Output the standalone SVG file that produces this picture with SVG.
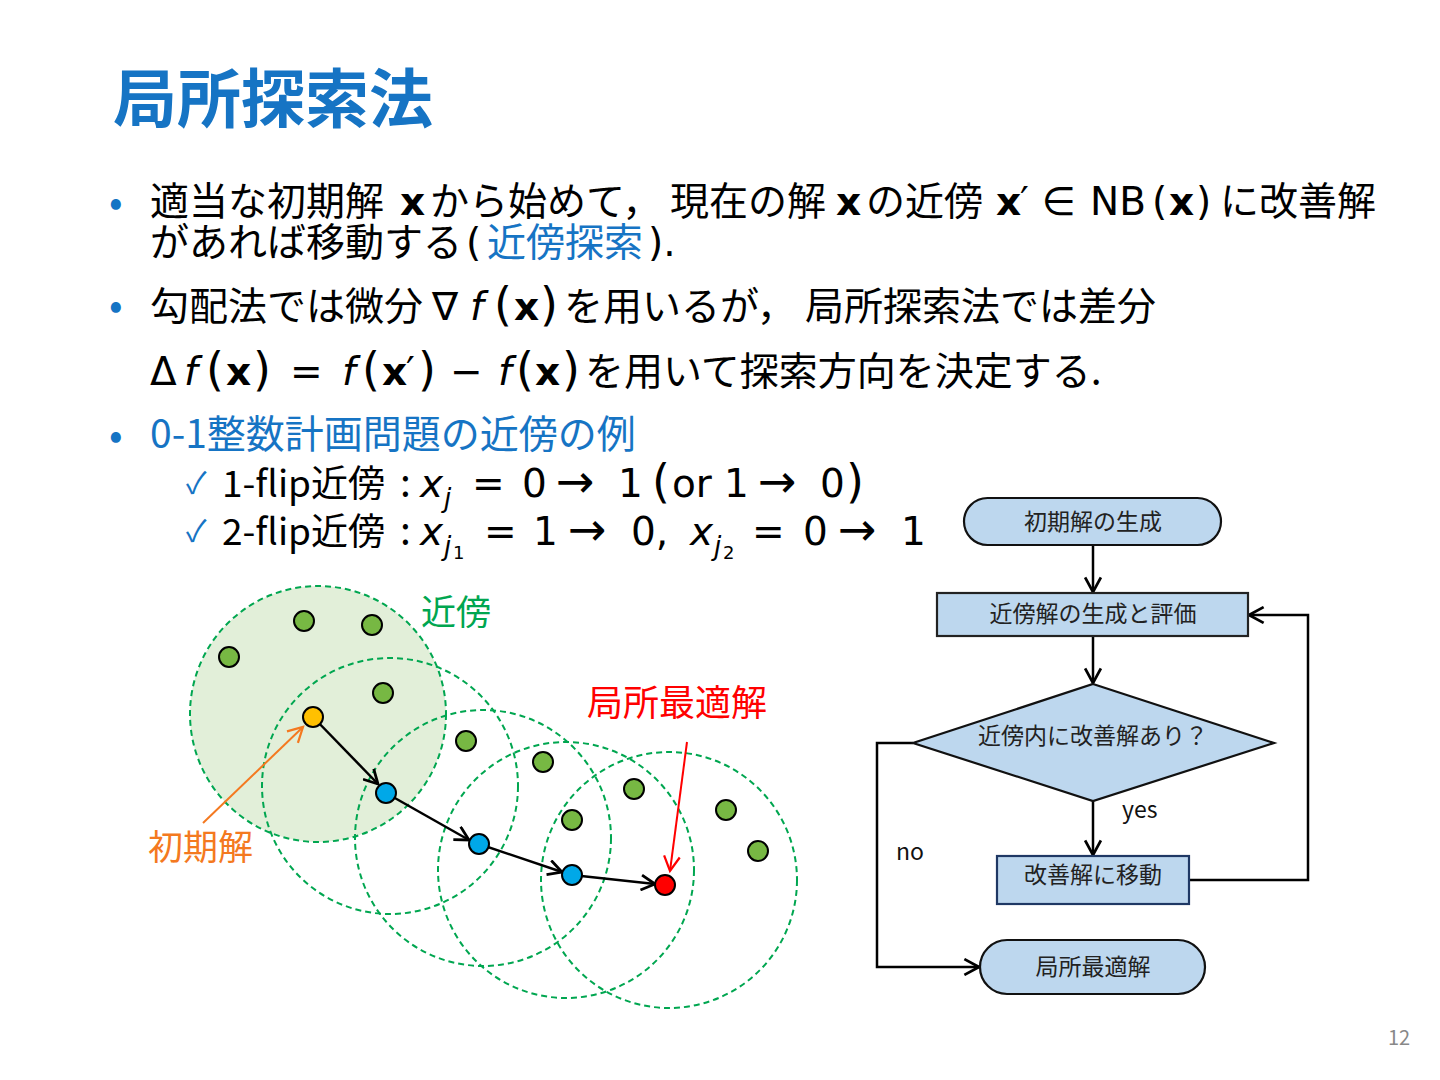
<svg xmlns="http://www.w3.org/2000/svg" width="1440" height="1080" viewBox="0 0 1440 1080">
<style>
text{font-family:"Noto Sans CJK JP","Noto Sans",sans-serif;}
.b{font-size:39px;fill:#000;}
.blue{fill:#1674C4;}
.m{font-family:"DejaVu Sans","Noto Sans",sans-serif;}
.it{font-style:italic;}
.bd{font-weight:bold;}
.fc{font-size:23px;fill:#222;text-anchor:middle;}
.nb{fill:#BDD7EE;stroke:#111;stroke-width:2.2;}
.ring{fill:none;stroke:#00A650;stroke-width:2;stroke-dasharray:6 4;}
.gd{fill:#77B843;stroke:#000;stroke-width:2;}
.bdot{fill:#00A8E8;stroke:#000;stroke-width:2;}
.con{fill:none;stroke:#000;stroke-width:2.5;}
</style>
<defs>
<marker id="ah" viewBox="0 0 16 16" refX="14" refY="8" markerWidth="17" markerHeight="17" markerUnits="userSpaceOnUse" orient="auto">
<path d="M1,1 L14,8 L1,15" fill="none" stroke="#000" stroke-width="2.6"/>
</marker>
<marker id="ahs" viewBox="0 0 16 16" refX="14" refY="8" markerWidth="18" markerHeight="18" markerUnits="userSpaceOnUse" orient="auto">
<path d="M1,1 L14,8 L1,15" fill="none" stroke="#000" stroke-width="2.4"/>
</marker>
<marker id="aho" viewBox="0 0 16 16" refX="14" refY="8" markerWidth="18" markerHeight="18" markerUnits="userSpaceOnUse" orient="auto">
<path d="M1,1 L14,8 L1,15" fill="none" stroke="#F47920" stroke-width="2"/>
</marker>
<marker id="ahr" viewBox="0 0 16 16" refX="14" refY="8" markerWidth="18" markerHeight="18" markerUnits="userSpaceOnUse" orient="auto">
<path d="M1,1 L14,8 L1,15" fill="none" stroke="#FF0000" stroke-width="2"/>
</marker>
</defs>
<rect width="1440" height="1080" fill="#fff"/>

<!-- Title -->
<text x="113" y="122" font-size="64" font-weight="bold" class="blue">局所探索法</text>

<!-- Bullets -->
<g class="blue" font-size="40"><text x="109" y="216">•</text><text x="109" y="319">•</text><text x="109" y="449">•</text></g>

<text class="b"><tspan x="150" y="215">適当な初期解</tspan><tspan x="400" class="m bd">x</tspan><tspan x="430">から始めて，</tspan><tspan x="670">現在の解</tspan><tspan x="836" class="m bd">x</tspan><tspan x="866">の近傍</tspan><tspan x="996" class="m bd">x</tspan><tspan x="1020" class="m">′</tspan><tspan x="1042" class="m">∈</tspan><tspan x="1090" class="m">NB</tspan><tspan x="1152" class="m">(</tspan><tspan x="1169" class="m bd">x</tspan><tspan x="1196" class="m">)</tspan><tspan x="1220">に改善解</tspan><tspan x="150" y="256">があれば移動する</tspan><tspan x="466" class="m">(</tspan><tspan x="487" class="blue">近傍探索</tspan><tspan x="648" class="m">).</tspan></text>

<text class="b"><tspan x="150" y="320">勾配法では微分</tspan><tspan x="432" class="m">∇</tspan><tspan x="470" class="m it">f</tspan><tspan x="494" class="m" font-size="46">(</tspan><tspan x="514" class="m bd">x</tspan><tspan x="540" class="m" font-size="46">)</tspan><tspan x="564">を用いるが，</tspan><tspan x="805">局所探索法では差分</tspan><tspan x="150" y="385" class="m">Δ</tspan><tspan x="184" class="m it">f</tspan><tspan x="206" class="m" font-size="46">(</tspan><tspan x="226" class="m bd">x</tspan><tspan x="253" class="m" font-size="46">)</tspan><tspan x="290" class="m">=</tspan><tspan x="342" class="m it">f</tspan><tspan x="362" class="m" font-size="46">(</tspan><tspan x="382" class="m bd">x</tspan><tspan x="406" class="m">′</tspan><tspan x="418" class="m" font-size="46">)</tspan><tspan x="450" class="m">−</tspan><tspan x="498" class="m it">f</tspan><tspan x="516" class="m" font-size="46">(</tspan><tspan x="535" class="m bd">x</tspan><tspan x="562" class="m" font-size="46">)</tspan><tspan x="585">を用いて探索方向を決定する.</tspan></text>

<text class="b blue" y="448" x="150">0-1整数計画問題の近傍の例</text>

<g font-size="30" class="blue"><text x="186" y="494">✓</text><text x="186" y="542">✓</text></g>
<text class="b"><tspan x="222" y="497" font-size="37">1-flip近傍</tspan><tspan x="400">:</tspan><tspan x="420" class="m it">x</tspan><tspan x="444" y="507" font-size="26" class="m it">j</tspan><tspan x="472" y="497" class="m">=</tspan><tspan x="522" class="m">0</tspan><tspan x="556" class="m" font-size="46">→</tspan><tspan x="618" class="m">1</tspan><tspan x="652" class="m" font-size="46">(</tspan><tspan x="672" class="m">or</tspan><tspan x="724" class="m">1</tspan><tspan x="758" class="m" font-size="46">→</tspan><tspan x="820" class="m">0</tspan><tspan x="846" class="m" font-size="46">)</tspan><tspan x="222" y="545" font-size="37">2-flip近傍</tspan><tspan x="400">:</tspan><tspan x="420" class="m it">x</tspan><tspan x="444" y="555" font-size="26" class="m it">j</tspan><tspan x="453" y="559" font-size="18" class="m">1</tspan><tspan x="484" y="545" class="m">=</tspan><tspan x="533" class="m">1</tspan><tspan x="568" class="m" font-size="46">→</tspan><tspan x="631" class="m">0,</tspan><tspan x="690" class="m it">x</tspan><tspan x="714" y="555" font-size="26" class="m it">j</tspan><tspan x="723" y="559" font-size="18" class="m">2</tspan><tspan x="752" y="545" class="m">=</tspan><tspan x="803" class="m">0</tspan><tspan x="838" class="m" font-size="46">→</tspan><tspan x="901" class="m">1</tspan></text>

<!-- Neighborhood illustration -->
<g id="neighborhoods">
<circle cx="318" cy="714" r="128" class="ring" style="fill:#E2EFD9"/>
<circle cx="390" cy="786" r="128" class="ring"/>
<circle cx="483" cy="838" r="128" class="ring"/>
<circle cx="566" cy="870" r="128" class="ring"/>
<circle cx="669" cy="880" r="128" class="ring"/>
</g>
<g id="dots">
<circle cx="229" cy="657" r="10" class="gd"/>
<circle cx="304" cy="621" r="10" class="gd"/>
<circle cx="372" cy="625" r="10" class="gd"/>
<circle cx="383" cy="693" r="10" class="gd"/>
<circle cx="466" cy="741" r="10" class="gd"/>
<circle cx="543" cy="762" r="10" class="gd"/>
<circle cx="634" cy="789" r="10" class="gd"/>
<circle cx="572" cy="820" r="10" class="gd"/>
<circle cx="726" cy="810" r="10" class="gd"/>
<circle cx="758" cy="851" r="10" class="gd"/>
</g>
<g id="path-connectors">
<line x1="313" y1="717" x2="378" y2="784" class="con" marker-end="url(#ah)"/>
<line x1="386" y1="793" x2="469" y2="840" class="con" marker-end="url(#ah)"/>
<line x1="479" y1="844" x2="562" y2="872" class="con" marker-end="url(#ah)"/>
<line x1="572" y1="875" x2="655" y2="884" class="con" marker-end="url(#ah)"/>
<line x1="203" y1="823" x2="303" y2="727" stroke="#F47920" stroke-width="2" marker-end="url(#aho)"/>
<line x1="687" y1="742" x2="670" y2="871" stroke="#FF0000" stroke-width="2" marker-end="url(#ahr)"/>
</g>
<g id="path-nodes">
<circle cx="313" cy="717" r="10" fill="#FFC000" stroke="#000" stroke-width="2"/>
<circle cx="386" cy="793" r="10" class="bdot"/>
<circle cx="479" cy="844" r="10" class="bdot"/>
<circle cx="572" cy="875" r="10" class="bdot"/>
<circle cx="665" cy="885" r="10" fill="#FF0000" stroke="#000" stroke-width="2"/>
</g>
<text x="421" y="625" font-size="35" fill="#00A650">近傍</text>
<text x="587" y="716" font-size="36" fill="#FF0000">局所最適解</text>
<text x="148" y="860" font-size="35" fill="#F47920">初期解</text>

<!-- Flowchart -->
<g id="fc-connectors">
<line x1="1093" y1="545" x2="1093" y2="592" class="con" marker-end="url(#ahs)"/>
<line x1="1093" y1="636" x2="1093" y2="683" class="con" marker-end="url(#ahs)"/>
<line x1="1093" y1="801" x2="1093" y2="855" class="con" marker-end="url(#ahs)"/>
<polyline points="1189,880 1308,880 1308,615 1249,615" class="con" marker-end="url(#ahs)"/>
<polyline points="913,743 877,743 877,967 979,967" class="con" marker-end="url(#ahs)"/>
<text x="1122" y="818" font-size="23" font-family="Noto Sans, sans-serif" fill="#111">yes</text>
<text x="896" y="860" font-size="23" font-family="Noto Sans, sans-serif" fill="#111">no</text>
</g>
<g id="fc-start">
<rect x="964" y="498" width="257" height="47" rx="23.5" class="nb"/>
<text x="1093" y="530" class="fc">初期解の生成</text>
</g>
<g id="fc-generate">
<rect x="937" y="593" width="311" height="43" class="nb" style="stroke:#222"/>
<text x="1093" y="622" class="fc">近傍解の生成と評価</text>
</g>
<g id="fc-decision">
<polygon points="1093,684 1274,743 1093,801 913,743" class="nb"/>
<text x="1093" y="744" class="fc">近傍内に改善解あり？</text>
</g>
<g id="fc-move">
<rect x="997" y="856" width="192" height="48" class="nb" style="stroke:#1F3864"/>
<text x="1093" y="883" class="fc">改善解に移動</text>
</g>
<g id="fc-end">
<rect x="980" y="940" width="225" height="54" rx="27" class="nb"/>
<text x="1093" y="975" class="fc">局所最適解</text>
</g>

<text x="1388" y="1045" font-size="20" fill="#888" font-family="Noto Sans, sans-serif">12</text>
</svg>
